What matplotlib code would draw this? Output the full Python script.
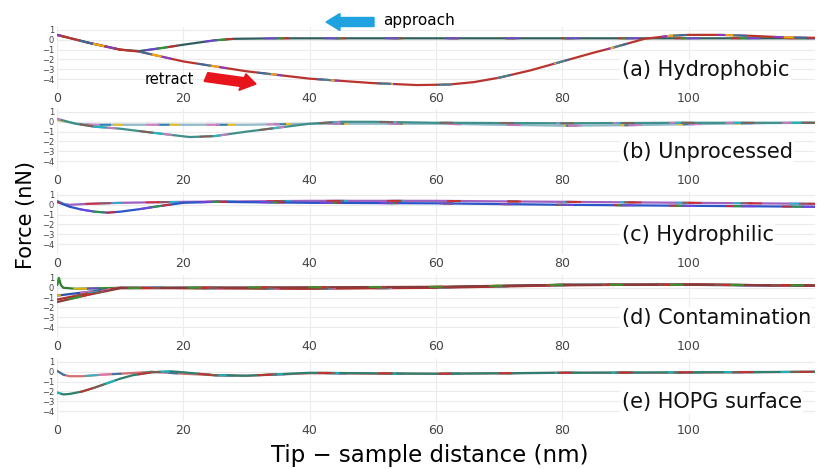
import matplotlib.pyplot as plt
from matplotlib.patches import FancyArrow

# distance (nm) / force (nN)
panel_labels = ["(a) Hydrophobic", "(b) Unprocessed", "(c) Hydrophilic",
                "(d) Contamination", "(e) HOPG surface"]

a_app_x = [0, 5, 10, 13, 17, 20, 25, 28, 35, 60, 90, 100, 120]
a_app_y = [0.5, -0.3, -1.0, -1.15, -0.8, -0.5, -0.05, 0.1, 0.15, 0.15, 0.15, 0.15, 0.15]
a_ret_x = [0, 5, 10, 13, 20, 30, 40, 50, 57, 62, 66, 70, 75, 80, 85, 88, 93, 97, 100, 105, 110, 115, 120]
a_ret_y = [0.5, -0.3, -1.0, -1.2, -2.2, -3.2, -3.95, -4.4, -4.6, -4.55, -4.3, -3.85, -3.1, -2.2, -1.3, -0.8, 0.1, 0.4, 0.5, 0.5, 0.4, 0.25, 0.2]

b_app_x = [0, 3, 6, 10, 20, 30, 40, 50, 60, 70, 80, 90, 100, 110, 120]
b_app_y = [0.2, -0.2, -0.3, -0.3, -0.3, -0.3, -0.2, -0.2, -0.2, -0.3, -0.4, -0.35, -0.25, -0.15, -0.1]
b_ret_x = [0, 3, 6, 10, 15, 21, 25, 30, 35, 40, 45, 50, 60, 80, 100, 120]
b_ret_y = [0.3, -0.2, -0.5, -0.7, -1.1, -1.55, -1.45, -1.0, -0.6, -0.2, 0.0, 0.0, -0.1, -0.15, -0.1, -0.1]

c_app_x = [0, 1, 2, 5, 10, 20, 40, 60, 80, 100, 120]
c_app_y = [0.4, 0.1, 0.0, 0.1, 0.2, 0.3, 0.4, 0.4, 0.3, 0.2, 0.1]
c_ret_x = [0, 2, 4, 6, 8, 10, 13, 16, 20, 25, 40, 60, 80, 100, 120]
c_ret_y = [0.3, -0.2, -0.5, -0.7, -0.8, -0.7, -0.45, -0.15, 0.2, 0.3, 0.2, 0.15, 0.0, -0.1, -0.2]

d_app_x = [0, 0.3, 0.6, 1, 3, 10, 20, 40, 60, 80, 100, 120]
d_app_y = [0.2, 1.0, 0.3, 0.0, -0.1, 0.0, 0.0, -0.05, 0.05, 0.3, 0.35, 0.2]
d_ret1_x = [0, 5, 10, 20, 40, 60, 80, 100, 120]
d_ret1_y = [-0.8, -0.4, 0.0, 0.0, 0.0, 0.05, 0.3, 0.3, 0.2]
d_ret2_x = [0, 5, 10, 20, 40, 60, 80, 100, 120]
d_ret2_y = [-1.2, -0.55, 0.0, -0.05, -0.1, 0.0, 0.25, 0.35, 0.2]
d_ret3_x = [0, 5, 10, 20, 40, 60, 80, 100, 120]
d_ret3_y = [-1.45, -0.7, -0.05, 0.0, 0.05, 0.1, 0.3, 0.3, 0.25]

e_app_x = [0, 1, 2, 4, 7, 10, 15, 20, 25, 30, 40, 50, 60, 80, 100, 120]
e_app_y = [0.1, -0.3, -0.45, -0.45, -0.3, -0.2, 0.0, -0.2, -0.35, -0.4, -0.15, -0.2, -0.2, -0.1, -0.1, 0.0]
e_ret_x = [0, 1, 2, 4, 6, 8, 10, 12, 15, 18, 20, 25, 30, 40, 60, 80, 100, 120]
e_ret_y = [-2.1, -2.3, -2.25, -2.0, -1.6, -1.15, -0.7, -0.35, -0.05, 0.05, -0.05, -0.35, -0.4, -0.1, -0.2, -0.1, -0.05, 0.0]

panels = [
    [(a_app_x, a_app_y, "#2f5e5a"), (a_ret_x, a_ret_y, "#b8342c")],
    [(b_app_x, b_app_y, "#8fb8c8"), (b_ret_x, b_ret_y, "#3f8f8a")],
    [(c_app_x, c_app_y, "#a060c0"), (c_ret_x, c_ret_y, "#2b55c8")],
    [(d_app_x, d_app_y, "#2e7d32"), (d_ret1_x, d_ret1_y, "#3050b0"),
     (d_ret2_x, d_ret2_y, "#b03030"), (d_ret3_x, d_ret3_y, "#8b3a3a")],
    [(e_app_x, e_app_y, "#d07070"), (e_ret_x, e_ret_y, "#2f7f6f")],
]

overlay = ["#d62728", "#2ca02c", "#7b3fe4", "#ffbf00", "#1f77b4", "#e377c2", "#17becf", "#8c564b"]

W, H = 817, 469
fig = plt.figure(figsize=(W / 100, H / 100), dpi=100)

tops = [27, 109, 192, 275, 359]
left, right = 57, 815
ax_h = 62

for i, (curves, label) in enumerate(zip(panels, panel_labels)):
    ax = fig.add_axes([left / W, 1 - (tops[i] + ax_h) / H, (right - left) / W, ax_h / H])
    for j, (xs, ys, c) in enumerate(curves):
        ax.plot(xs, ys, color=c, lw=1.6, solid_capstyle="butt")
        for k in range(3):
            col = overlay[(i * 3 + j * 2 + k) % len(overlay)]
            ax.plot(xs, ys, color=col, lw=1.4, alpha=0.85, dash_capstyle="butt",
                    linestyle=(8 * k + 3 * j, (5 + k, 24)))
    ax.set_xlim(0, 120)
    ax.set_ylim(-5, 1.3)
    ax.set_xticks([0, 20, 40, 60, 80, 100])
    ax.set_yticks([1, 0, -1, -2, -3, -4])
    ax.grid(color="#ececec", lw=0.8)
    ax.set_axisbelow(True)
    for s in ax.spines.values():
        s.set_visible(False)
    ax.tick_params(axis="y", length=0, pad=2, labelsize=6, labelcolor="#444444")
    ax.tick_params(axis="x", length=0, pad=2, labelsize=9, labelcolor="#444444")
    ax.text(0.745, 0.30, label, transform=ax.transAxes, fontsize=15, color="#111111",
            ha="left", va="center",
            bbox=dict(facecolor="white", edgecolor="none", pad=1))

fig.text(26 / W, 1 - 215 / H, "Force (nN)", rotation=90, fontsize=15,
         ha="center", va="center")
fig.text(430 / W, 1 - 455 / H, "Tip \u2212 sample distance (nm)", fontsize=16.5,
         ha="center", va="center")

# approach / retract arrows
fig.text(383 / W, 1 - 20 / H, "approach", fontsize=11, ha="left", va="center")
fig.patches.append(FancyArrow(374 / W, 1 - 22 / H, -48 / W, 0, width=9 / H,
                              head_width=17 / H, head_length=14 / W,
                              length_includes_head=True, color="#1fa3e0",
                              transform=fig.transFigure, figure=fig))
fig.text(145 / W, 1 - 80 / H, "retract", fontsize=10.5, ha="left", va="center")
fig.patches.append(FancyArrow(206 / W, 1 - 77 / H, 50 / W, -7 / H, width=9 / H,
                              head_width=17 / H, head_length=14 / W,
                              length_includes_head=True, color="#e8141c",
                              transform=fig.transFigure, figure=fig))

fig.savefig("out.png", dpi=100)
